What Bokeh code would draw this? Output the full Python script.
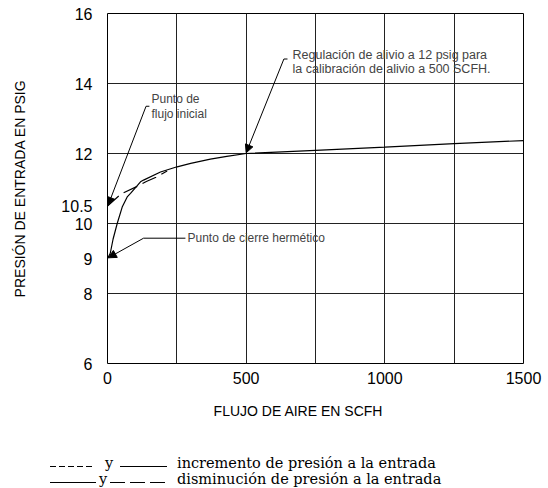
from bokeh.plotting import figure
from bokeh.models import FixedTicker, Label, Arrow, NormalHead, Range1d, Div
from bokeh.layouts import column
from bokeh.embed import file_html
from bokeh.resources import INLINE

# ---- data ----
air_inc = [0, 10, 20, 35, 53, 71, 83, 119, 130, 191, 251, 300, 371, 430, 500, 750, 1000, 1250, 1500]
pres_inc = [9.0, 9.15, 9.55, 10.0, 10.47, 10.76, 10.86, 11.19, 11.24, 11.47, 11.62, 11.72, 11.84, 11.92, 12.0, 12.09, 12.18, 12.28, 12.37]
air_dec = [0, 50, 107, 140, 175, 215]
pres_dec = [10.5, 10.85, 11.06, 11.2, 11.32, 11.5]

x_ticks = [0, 500, 1000, 1500]
y_ticks = [6, 8, 9, 10, 10.5, 12, 14, 16]
x_grid = [250, 500, 750, 1000, 1250]
y_grid = [8, 10, 12, 14]

x_title = "FLUJO DE AIRE EN SCFH"
y_title = "PRESIÓN DE ENTRADA EN PSIG"
legend_rows = ["incremento de presión a la entrada", "disminución de presión a la entrada"]

FONT = "Liberation Sans"
SERIF = "DejaVu Serif"

# frame geometry (page px)
FL, FT, FW, FH = 107, 13, 416, 350
W, H1, H2 = 548, 398, 90

p = figure(width=W, height=H1, x_range=Range1d(0, 1500), y_range=Range1d(6, 16),
           output_backend="svg", toolbar_location=None,
           min_border_left=FL, min_border_right=W - FL - FW, min_border_top=FT,
           min_border_bottom=H1 - FT - FH)
p.outline_line_color = "black"
p.outline_line_width = 1
p.background_fill_color = "white"

for ax in (p.xaxis[0], p.yaxis[0]):
    ax.axis_line_color = None
    ax.major_tick_line_color = None
    ax.minor_tick_line_color = None
    ax.major_tick_in = 0
    ax.major_tick_out = 0
    ax.major_label_text_font = FONT
    ax.major_label_text_font_size = "16px"
    ax.major_label_text_color = "black"

p.xaxis.ticker = FixedTicker(ticks=x_ticks)
p.yaxis.ticker = FixedTicker(ticks=y_ticks)
p.xaxis.major_label_standoff = 8
p.yaxis.major_label_standoff = 15
p.yaxis.axis_label = y_title
p.yaxis.axis_label_text_font = FONT
p.yaxis.axis_label_text_font_size = "14px"
p.yaxis.axis_label_text_font_style = "normal"
p.yaxis.axis_label_text_color = "black"
p.yaxis.axis_label_standoff = 30

p.xgrid.ticker = FixedTicker(ticks=x_grid)
p.ygrid.ticker = FixedTicker(ticks=y_grid)
for g in (p.xgrid[0], p.ygrid[0]):
    g.grid_line_color = "#222222"
    g.grid_line_width = 1

p.line(air_inc, pres_inc, line_color="black", line_width=1.2)
p.line(air_dec, pres_dec, line_color="black", line_width=1.2, line_dash="15 6")

# page pixel -> data helpers for the annotations
def dx(px):
    return (px - FL) * 1500.0 / FW

def dy(py):
    return 16 - (py - FT) * 10.0 / FH

def leader(hook, corner, tip):
    p.line([hook[0], corner[0]], [hook[1], corner[1]], line_color="black", line_width=1)
    p.add_layout(Arrow(end=NormalHead(size=8, fill_color="black", line_color="black", line_width=1),
                       x_start=corner[0], y_start=corner[1], x_end=tip[0], y_end=tip[1],
                       line_color="black", line_width=1))

def note(px, py, txt, size="12px"):
    p.add_layout(Label(x=dx(px), y=dy(py), text=txt, text_font=FONT, text_font_size=size,
                       text_baseline="middle", text_align="left"))

leader((151, 13.35), (139, 13.35), (2, 10.52))
note(151, 98, "Punto de")
note(151, 113, "flujo inicial")

leader((281, 9.58), (130, 9.58), (3, 9.02))
note(187, 237.7, "Punto de cierre hermético")

leader((649, 14.70), (636, 14.70), (500, 12.02))
note(292, 54.5, "Regulación de alivio a 12 psig para", "12.5px")
note(292, 68.5, "la calibración de alivio a 500 SCFH.", "12.5px")

# ---- lower strip: x title and legend key (coordinates relative to the strip) ----
def ln(x1, x2, y, dash=None):
    d = f' stroke-dasharray="{dash}"' if dash else ""
    return f'<line x1="{x1}" y1="{y}" x2="{x2}" y2="{y}" stroke="black" stroke-width="1"{d}/>'

def tx(x, y, s, font, size, anchor="start"):
    return (f'<text x="{x}" y="{y}" fill="black" text-anchor="{anchor}" dominant-baseline="central" '
            f'style="font-family:\'{font}\';font-size:{size}px;font-weight:normal">{s}</text>')

svg = (f'<svg xmlns="http://www.w3.org/2000/svg" width="{W}" height="{H2}" style="display:block">'
       + tx(298, 13, x_title, FONT, 14, "middle")
       + ln(50, 93, 68.5, "6 3") + tx(105, 64.5, "y", SERIF, 14.5) + ln(120, 167, 68.5)
       + tx(177, 64.5, legend_rows[0], SERIF, 14.5)
       + ln(50, 96, 84.5) + tx(99, 80.5, "y", SERIF, 14.5) + ln(110, 165, 84.5, "15 5")
       + tx(177, 80.5, legend_rows[1], SERIF, 14.5)
       + '</svg>')

strip = Div(text=svg, width=W, height=H2, styles={"margin": "0", "padding": "0"})

layout = column(p, strip, spacing=0)
open("out.html", "w").write(file_html(layout, INLINE))
